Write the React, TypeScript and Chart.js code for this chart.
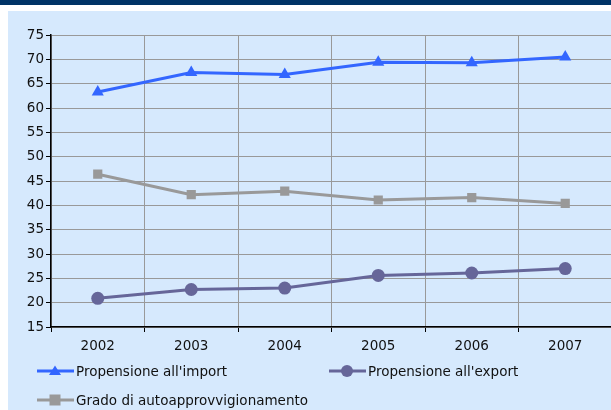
import React, { useEffect, useRef } from "react";
import { Chart, registerables } from "chart.js";

Chart.register(...registerables);

const years = ["2002", "2003", "2004", "2005", "2006", "2007"];
const importValues = [63.3, 67.3, 66.9, 69.4, 69.3, 70.5];
const exportValues = [20.9, 22.7, 23.0, 25.6, 26.1, 27.0];
const gradoValues = [46.4, 42.2, 42.9, 41.1, 41.6, 40.4];
const seriesLabels = [
  "Propensione all'import",
  "Propensione all'export",
  "Grado di autoapprovvigionamento",
];
const seriesColors = ["#3366FF", "#666699", "#999999"];
const seriesStyles = ["triangle", "circle", "rect"] as const;

const FONT = "'DejaVu Sans', Verdana, sans-serif";
const FS = 13.5;

function LegendItem({ x, y, i }: { x: number; y: number; i: number }) {
  const c = seriesColors[i];
  const mx = 18;
  let marker: React.ReactNode = null;
  if (seriesStyles[i] === "triangle") {
    marker = <polygon points={`${mx},${3.5} ${mx - 6},${13} ${mx + 6},${13}`} fill={c} />;
  } else if (seriesStyles[i] === "circle") {
    marker = <circle cx={mx} cy={9} r={6} fill={c} />;
  } else {
    marker = <rect x={mx - 5.5} y={3.5} width={11} height={11} fill={c} />;
  }
  return (
    <div style={{ position: "absolute", left: x, top: y - 9, height: 18, display: "flex", alignItems: "center" }}>
      <svg width={37} height={18} style={{ display: "block" }}>
        <line x1={0} y1={9} x2={37} y2={9} stroke={c} strokeWidth={3} />
        {marker}
      </svg>
      <span style={{ fontFamily: FONT, fontSize: FS, color: "#111", marginLeft: 2, whiteSpace: "nowrap" }}>
        {seriesLabels[i]}
      </span>
    </div>
  );
}

export default function App() {
  const ref = useRef<HTMLCanvasElement | null>(null);
  useEffect(() => {
    if (!ref.current) return;
    const values = [importValues, exportValues, gradoValues];
    const chart = new Chart(ref.current, {
      type: "line",
      data: {
        labels: years,
        datasets: values.map((v, i) => ({
          label: seriesLabels[i],
          data: v,
          borderColor: seriesColors[i],
          backgroundColor: seriesColors[i],
          borderWidth: 3,
          pointStyle: seriesStyles[i],
          pointRadius: i === 0 ? 7 : 6.5,
          pointBorderWidth: 0,
          tension: 0,
        })),
      },
      options: {
        animation: false,
        responsive: false,
        maintainAspectRatio: false,
        layout: { padding: { top: 35, right: 28, bottom: 0, left: 0 } },
        plugins: { legend: { display: false }, tooltip: { enabled: false } },
        scales: {
          x: {
            offset: true,
            grid: {
              offset: true,
              color: "#999999",
              lineWidth: 1,
              tickColor: "#000",
              tickLength: 5,
            },
            border: { color: "#000", width: 1.5 },
            ticks: { font: { family: FONT, size: FS }, color: "#111", padding: 6, maxRotation: 0 },
            afterFit: (s: any) => {
              s.height = 83;
            },
          },
          y: {
            min: 15,
            max: 75,
            ticks: { stepSize: 5, font: { family: FONT, size: FS }, color: "#111", padding: 2 },
            grid: { color: "#999999", lineWidth: 1, tickColor: "#000", tickLength: 5 },
            border: { color: "#000", width: 1.5 },
            afterFit: (s: any) => {
              s.width = 51;
            },
          },
        },
      },
    });
    return () => chart.destroy();
  }, []);

  return (
    <div style={{ position: "fixed", left: 0, top: 0, width: 611, height: 410, overflow: "hidden", background: "#fff" }}>
      <div style={{ position: "absolute", left: 0, top: 0, width: 611, height: 5, background: "#003366" }} />
      <div style={{ position: "absolute", left: 8, top: 11, width: 603, height: 399, background: "#D6E9FD" }} />
      <canvas ref={ref} width={640} height={410} style={{ position: "absolute", left: 0, top: 0, width: 640, height: 410 }} />
      <LegendItem x={37} y={371} i={0} />
      <LegendItem x={329} y={371} i={1} />
      <LegendItem x={37} y={400} i={2} />
    </div>
  );
}
